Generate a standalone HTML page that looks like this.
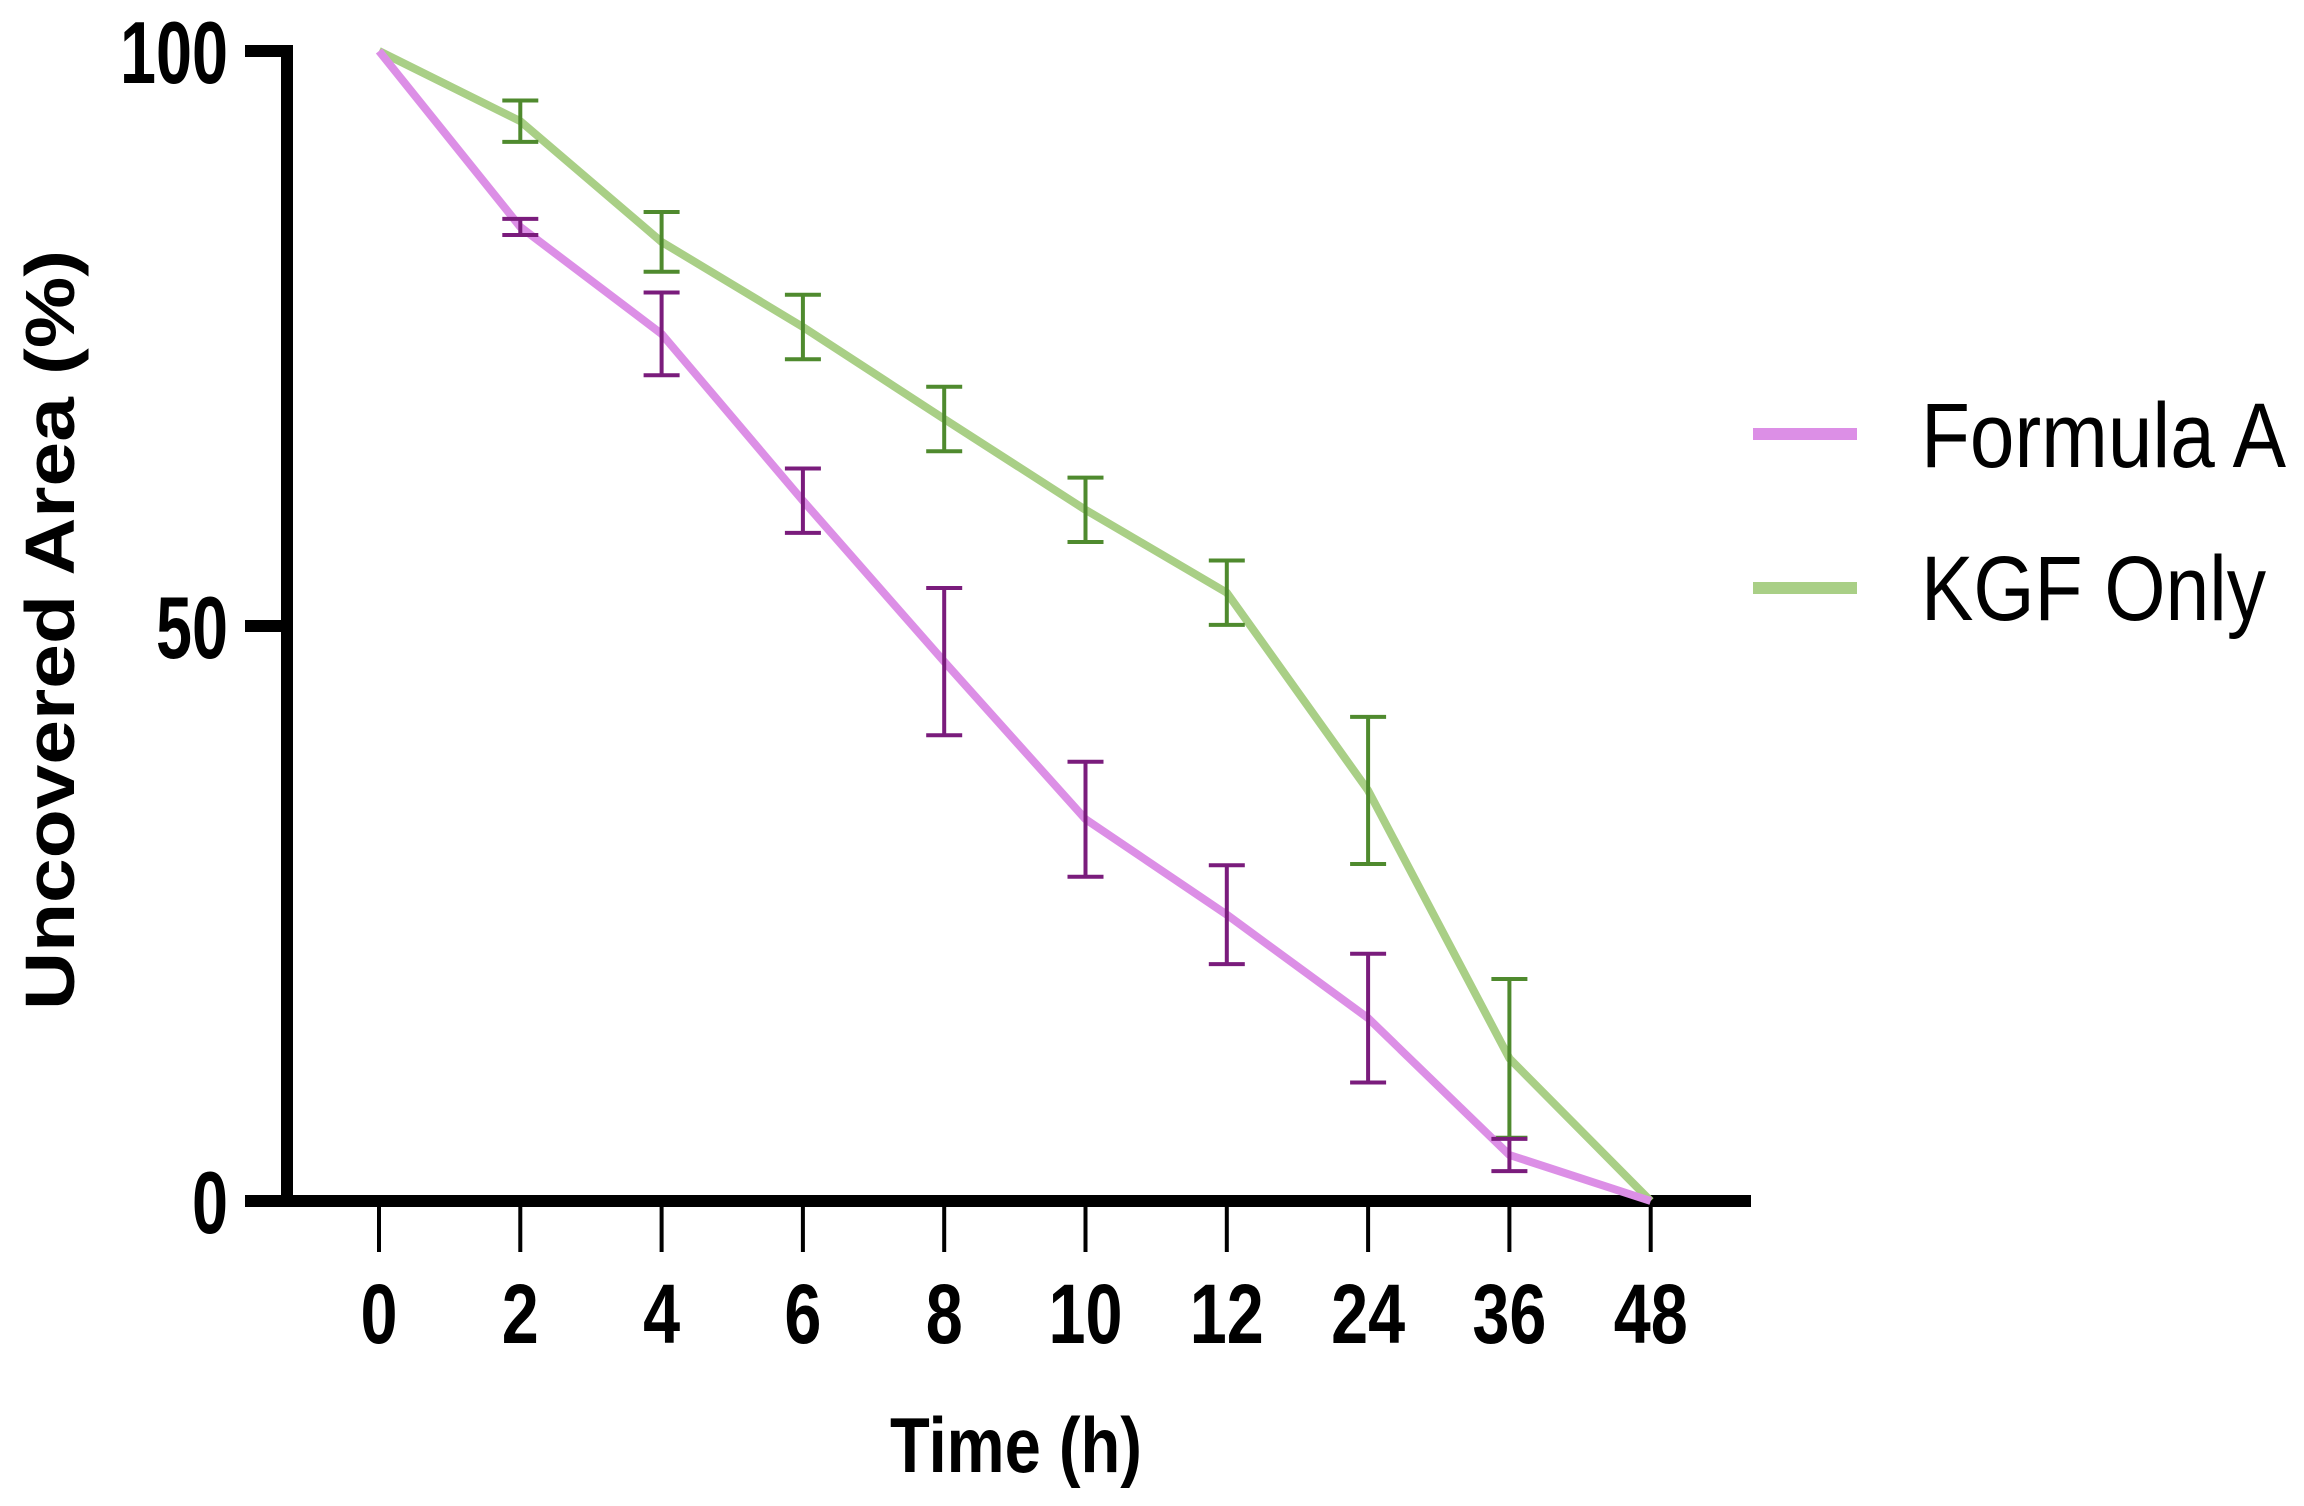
<!DOCTYPE html>
<html><head><meta charset="utf-8"><style>
html,body{margin:0;padding:0;background:#fff;}
svg{display:block;}
text{font-family:"Liberation Sans",sans-serif;}
</style></head><body>
<svg id="chart" width="2304" height="1506" viewBox="0 0 2304 1506" xmlns="http://www.w3.org/2000/svg">
<g id="axes"></g>
<g id="series"></g>
<text transform="translate(74,630) rotate(-90)" text-anchor="middle" font-weight="bold" font-size="70" textLength="760" lengthAdjust="spacingAndGlyphs">Uncovered Area (%)</text>
<text x="1016" y="1472" text-anchor="middle" font-weight="bold" font-size="78" textLength="252" lengthAdjust="spacingAndGlyphs">Time (h)</text>
<g>
<line x1="1753" y1="434" x2="1857" y2="434" stroke="#dc8fe6" stroke-width="12"/>
<text x="1921" y="467" font-size="92" textLength="365" lengthAdjust="spacingAndGlyphs">Formula A</text>
<line x1="1753" y1="588" x2="1857" y2="588" stroke="#a9cf86" stroke-width="12"/>
<text x="1921" y="620" font-size="92" textLength="345" lengthAdjust="spacingAndGlyphs">KGF Only</text>
</g>
</svg>
<script>
const categories = ["0","2","4","6","8","10","12","24","36","48"];
const formulaA = [100, 84.7, 75.4, 60.9, 46.9, 33.2, 24.9, 15.9, 4.0, 0];
const formulaAErr = [0, 0.7, 3.6, 2.8, 6.4, 5.0, 4.3, 5.6, 1.4, 0];
const kgfOnly = [100, 93.9, 83.4, 76.0, 68.0, 60.1, 52.9, 35.7, 12.4, 0];
const kgfOnlyErr = [0, 1.8, 2.6, 2.8, 2.8, 2.8, 2.8, 6.4, 6.9, 0];
const yTicks = [0, 50, 100];

const NS = "http://www.w3.org/2000/svg";
const X0 = 379, DX = 141.3;
const Y0 = 1201, Y100 = 51;
function xPos(i){ return X0 + i*DX; }
function yPos(v){ return Y0 - (v/100)*(Y0-Y100); }
function mk(tag, attrs, parent){
  const e = document.createElementNS(NS, tag);
  for (const k in attrs) e.setAttribute(k, attrs[k]);
  parent.appendChild(e); return e;
}
const axes = document.getElementById('axes');
const series = document.getElementById('series');

let yl = mk('line', {x1:287, y1:yPos(100)-6, x2:287, y2:Y0+6, stroke:'#000','stroke-width':12}, axes);


let xl = mk('line', {x1:245, y1:Y0, x2:1751, y2:Y0, stroke:'#000','stroke-width':12}, axes);



yTicks.forEach(v => {
  const y = yPos(v);
  const t = mk('line', {x1:245, y1:y, x2:290, y2:y, stroke:'#000','stroke-width':12}, axes);
  
  
  const s = String(v);
  const lb = mk('text', {x:228, y:y+32, 'text-anchor':'end','font-weight':'bold','font-size':88, textLength: s.length*36, lengthAdjust:'spacingAndGlyphs'}, axes);
  lb.textContent = s;
  
  
});

categories.forEach((c, i) => {
  const x = xPos(i);
  const t = mk('line', {x1:x, y1:Y0, x2:x, y2:1252, stroke:'#000','stroke-width':4}, axes);
  
  
  const lb = mk('text', {x:x, y:1343, 'text-anchor':'middle','font-weight':'bold','font-size':84, textLength: c.length*37, lengthAdjust:'spacingAndGlyphs'}, axes);
  lb.textContent = c;
  
  
});

function drawSeries(vals, errs, lineColor, barColor, name){
  const g = mk('g', {}, series);
  
  
  const pts = vals.map((v,i) => xPos(i)+','+yPos(v)).join(' ');
  const pl = mk('polyline', {points:pts, fill:'none', stroke:lineColor, 'stroke-width':8, 'stroke-linejoin':'round'}, g);
  
  
  vals.forEach((v,i) => {
    if (!errs[i]) return;
    const x = xPos(i), yt = yPos(v+errs[i]), yb = yPos(v-errs[i]);
    const eb = mk('path', {d:`M${x-18},${yt}H${x+18}M${x},${yt}V${yb}M${x-18},${yb}H${x+18}`, fill:'none', stroke:barColor, 'stroke-width':4}, g);
    
    
  });
}
drawSeries(kgfOnly, kgfOnlyErr, '#a9cf86', '#4f8a2e', 'kgf-only');
drawSeries(formulaA, formulaAErr, '#dc8fe6', '#7a1c7c', 'formula-a');
</script>
</body></html>
